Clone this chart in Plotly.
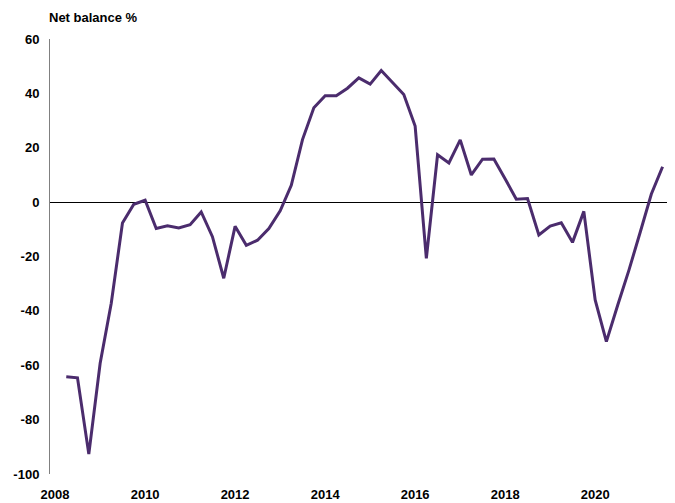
import plotly.graph_objects as go
import pandas as pd

# Quarterly observations, Q2 2008 to Q3 2021
quarters = pd.date_range(start="2008-04-01", periods=54, freq="QS")
net_balance = [
    -64.2, -64.6, -92.7, -59.3, -37.2, -7.7, -0.8, 0.7,
    -9.7, -8.7, -9.5, -8.3, -3.6, -12.7, -28.0, -8.9,
    -15.9, -14.0, -9.7, -3.2, 6.2, 23.0, 34.7, 39.1,
    39.1, 41.9, 45.7, 43.4, 48.4, 43.9, 39.6, 28.0,
    -20.7, 17.4, 14.4, 22.9, 10.0, 15.8, 15.9, 8.5,
    1.1, 1.3, -12.1, -8.8, -7.6, -14.8, -3.4, -36.0,
    -51.3, -38.0, -25.0, -11.0, 3.0, 13.0,
]
y_ticks = [-100, -80, -60, -40, -20, 0, 20, 40, 60]
y_tick_text = ["-100", "-80", "-60", "-40", "-20", "0", "20", "40", "60"]
title_text = "Net balance %"

font_family = "Liberation Sans, Arial, sans-serif"
fsize = 13

fig = go.Figure()
fig.add_trace(go.Scatter(
    x=quarters, y=net_balance, mode="lines",
    line=dict(color="#4B2C6D", width=3),
    showlegend=False, hoverinfo="x+y", cliponaxis=False,
))

# page body has an 8px margin, so the figure is sized to fit inside the window
fig.update_layout(
    width=667, height=495,
    margin=dict(l=42, r=7, t=31, b=29),
    paper_bgcolor="white", plot_bgcolor="white",
    font=dict(family=font_family, size=fsize, color="black", weight="bold"),
    xaxis=dict(
        type="date",
        range=["2007-11-21", "2021-08-14"],
        tick0="2008-01-01", dtick="M24", tickformat="%Y",
        showgrid=False, zeroline=False, showline=False,
        ticks="", ticklabelstandoff=11, automargin=False,
        tickfont=dict(family=font_family, size=fsize, color="black", weight="bold"),
    ),
    yaxis=dict(
        range=[-100, 60],
        tickvals=y_ticks, ticktext=y_tick_text,
        showgrid=False,
        zeroline=True, zerolinecolor="black", zerolinewidth=1,
        showline=True, linecolor="#808080", linewidth=1,
        ticks="", ticklabelstandoff=7, automargin=False,
        tickfont=dict(family=font_family, size=fsize, color="black", weight="bold"),
    ),
    annotations=[dict(
        text=title_text, xref="paper", yref="paper",
        x=(47 - 50) / 618, y=1 + (39 - 18) / 435,
        xanchor="left", yanchor="middle", showarrow=False,
        font=dict(family=font_family, size=fsize, color="black", weight="bold"),
    )],
)

fig.write_html("out.html")
